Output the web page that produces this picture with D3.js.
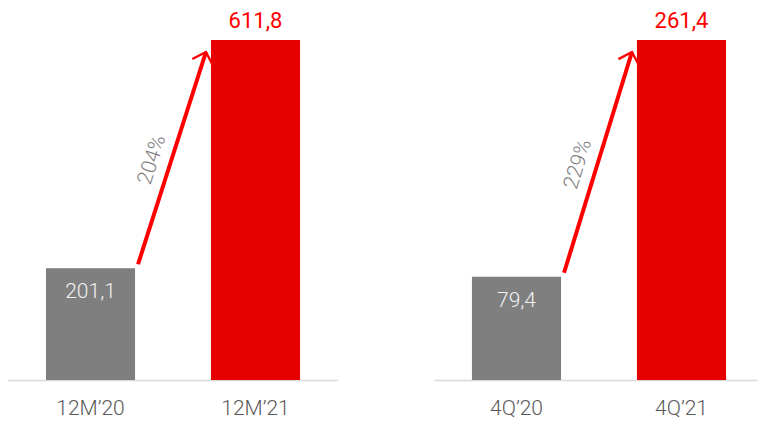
<!DOCTYPE html>
<html>
<head>
<meta charset="utf-8">
<script src="https://cdn.jsdelivr.net/npm/d3@7"></script>
<style>
  body { margin: 0; background: #fff; }
  text { font-family: Roboto, "Noto Sans", sans-serif; }
</style>
</head>
<body>
<div id="chart"></div>
<script>
// values
var yearCats = ["12M\u201920", "12M\u201921"];
var yearVals = [201.1, 611.8];
var yearGrowth = "204%";

var quarterCats = ["4Q\u201920", "4Q\u201921"];
var quarterVals = [79.4, 261.4];
var quarterGrowth = "229%";

var fmt = function (v) { return d3.format(".1f")(v).replace(".", ","); };

var width = 758, height = 421;
var baseY = 380, topY = 40;

var svg = d3.select("#chart")
    .append("svg")
    .attr("width", width)
    .attr("height", height);

// open chevron arrow head
svg.append("defs").append("marker")
    .attr("id", "head")
    .attr("viewBox", "-10 -10 20 20")
    .attr("refX", 0)
    .attr("refY", 0)
    .attr("markerWidth", 9)
    .attr("markerHeight", 9)
    .attr("markerUnits", "strokeWidth")
    .attr("orient", "auto")
    .append("path")
    .attr("d", "M-6,-6 L0,0 L-6,6")
    .attr("fill", "none")
    .attr("stroke", "#ff0000")
    .attr("stroke-width", 1.3);

drawPanel(yearCats, yearVals, yearGrowth, 8, 338);
drawPanel(quarterCats, quarterVals, quarterGrowth, 434, 764);

function drawPanel(cats, vals, growth, x0, x1) {
    var g = svg.append("g");

    var x = d3.scaleBand()
        .domain(cats)
        .range([x0, x1])
        .paddingInner(0.46)
        .paddingOuter(0.23);

    var y = d3.scaleLinear()
        .domain([0, d3.max(vals)])
        .range([baseY, topY]);

    // baseline
    g.append("line")
        .attr("x1", x0).attr("x2", Math.min(x1, width))
        .attr("y1", baseY + 0.5).attr("y2", baseY + 0.5)
        .attr("stroke", "#d9d9d9")
        .attr("stroke-width", 1.5);

    g.selectAll(".bar")
        .data(vals)
        .enter()
        .append("rect")
        .attr("class", "bar")
        .attr("x", function (d, i) { return x(cats[i]); })
        .attr("y", function (d) { return y(d); })
        .attr("width", x.bandwidth())
        .attr("height", function (d) { return baseY - y(d); })
        .attr("fill", function (d, i) { return i === 0 ? "#7f7f7f" : "#e60000"; });

    // value labels: inside the grey bar, above the red one
    g.selectAll(".val")
        .data(vals)
        .enter()
        .append("text")
        .attr("class", "val")
        .attr("x", function (d, i) { return x(cats[i]) + x.bandwidth() / 2; })
        .attr("y", function (d, i) { return i === 0 ? y(d) + 30 : y(d) - 12; })
        .attr("text-anchor", "middle")
        .style("font-size", function (d, i) { return i === 0 ? "21px" : "22px"; })
        .style("font-weight", function (d, i) { return i === 0 ? 300 : 400; })
        .style("fill", function (d, i) { return i === 0 ? "#f2f2f2" : "#ff0000"; })
        .text(function (d) { return fmt(d); });

    // category labels
    g.selectAll(".cat")
        .data(cats)
        .enter()
        .append("text")
        .attr("class", "cat")
        .attr("x", function (d) { return x(d) + x.bandwidth() / 2; })
        .attr("y", 415)
        .attr("text-anchor", "middle")
        .style("font-size", "21px")
        .style("font-weight", 300)
        .style("fill", "#595959")
        .text(function (d) { return d; });

    // growth arrow
    var sx = x(cats[0]) + x.bandwidth() + 3, sy = y(vals[0]) - 4;
    var ex = x(cats[1]) - 5, ey = y(vals[1]) + 12;
    g.append("line")
        .attr("x1", sx).attr("y1", sy)
        .attr("x2", ex).attr("y2", ey)
        .attr("stroke", "#ff0000")
        .attr("stroke-width", 4)
        .attr("marker-end", "url(#head)");

    var angle = Math.atan2(ey - sy, ex - sx) * 180 / Math.PI;
    var len = Math.hypot(ex - sx, ey - sy);
    var nx = (ey - sy) / len, ny = -(ex - sx) / len;
    var mx = (sx + ex) / 2 + nx * 22, my = (sy + ey) / 2 + ny * 22 + 8;
    g.append("text")
        .attr("transform", "translate(" + mx + "," + my + ") rotate(" + angle + ")")
        .attr("text-anchor", "middle")
        .attr("dy", "0.35em")
        .style("font-size", "21px")
        .style("font-weight", 300)
        .style("fill", "#7f7f7f")
        .text(growth);
}
</script>
</body>
</html>
